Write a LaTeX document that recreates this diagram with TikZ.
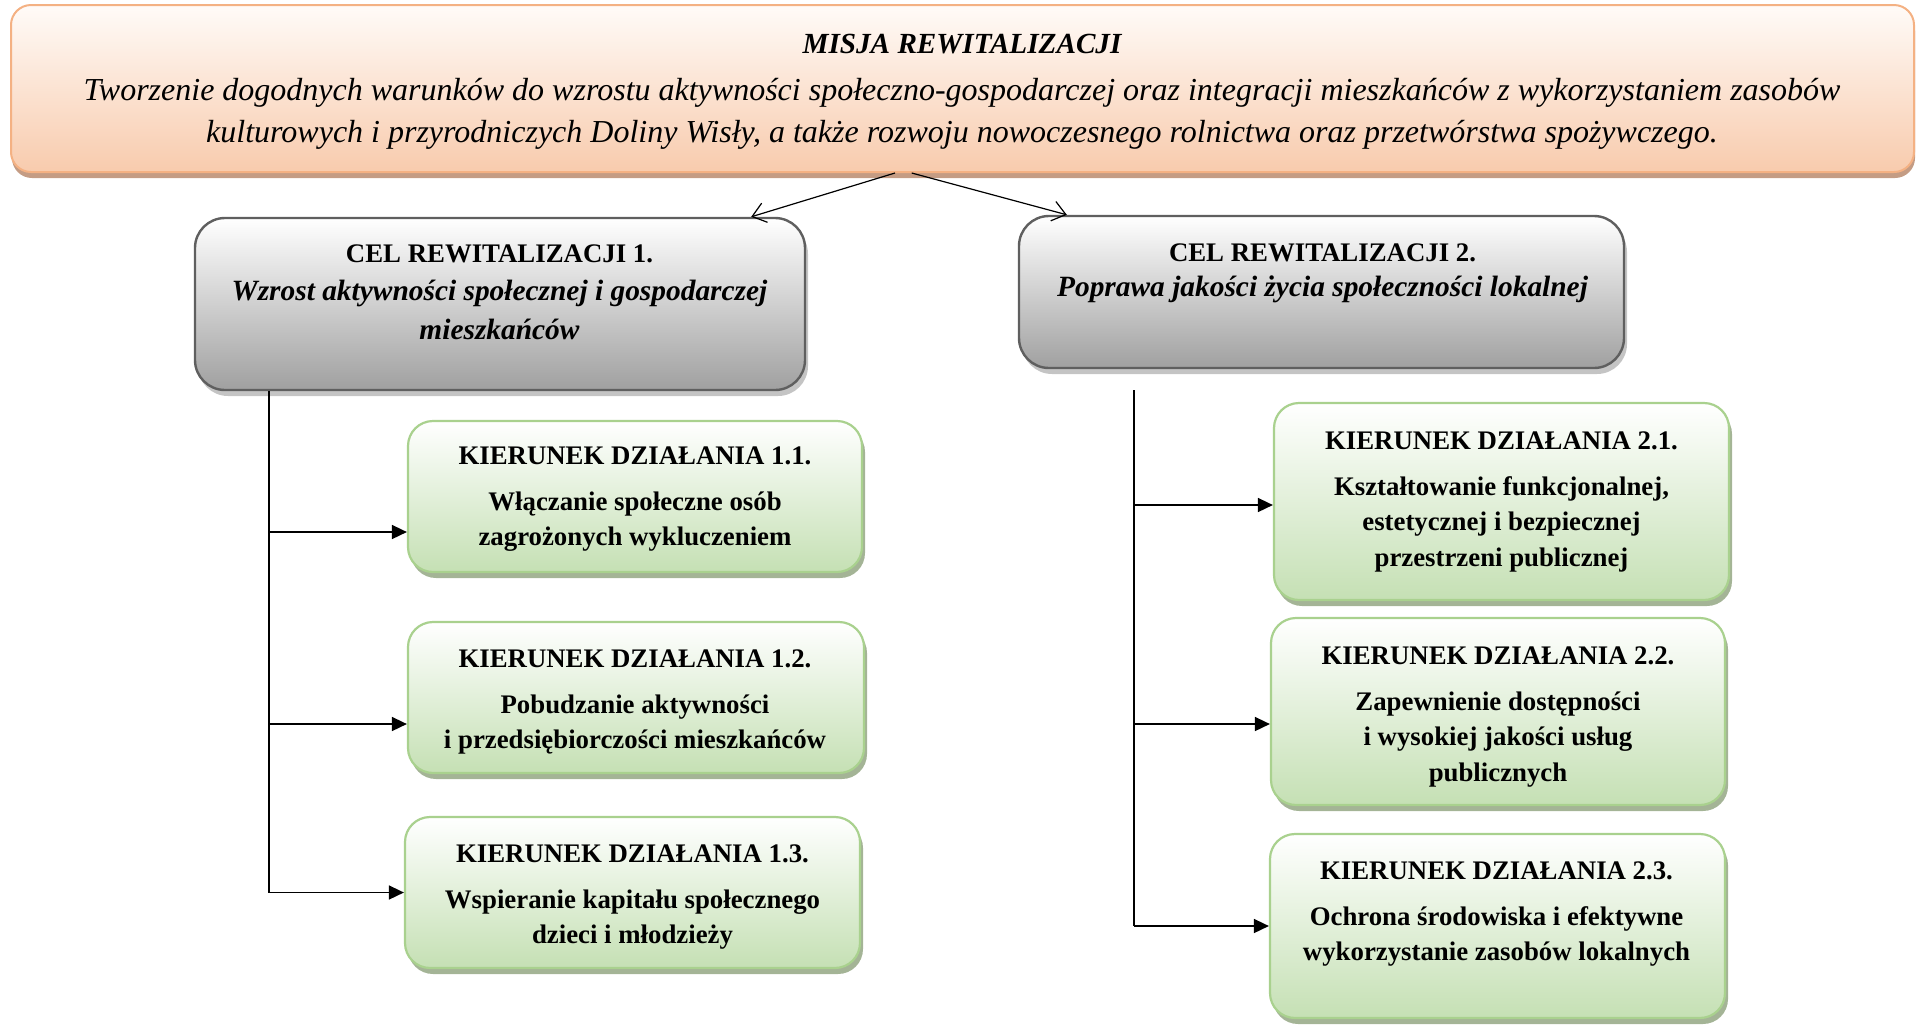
\documentclass[tikz,border=0pt]{standalone}
\usepackage{fontspec}
\setmainfont{Liberation Serif}
\usetikzlibrary{arrows.meta,shadows}

\definecolor{misjagora}{HTML}{FFFBF8}
\definecolor{misjadol}{HTML}{F8CBAD}
\definecolor{misjaramka}{HTML}{F4B183}
\definecolor{misjacien}{HTML}{C49C84}
\definecolor{celdol}{HTML}{A0A0A0}
\definecolor{celramka}{HTML}{5F5F5F}
\definecolor{celcien}{HTML}{C4C4C4}
\definecolor{kierdol}{HTML}{C5E0B4}
\definecolor{kierramka}{HTML}{A9D18E}
\definecolor{kiercien}{HTML}{A4B496}

\begin{document}
\begin{tikzpicture}[x=0.5pt,y=-0.5pt]
\tikzset{misja/.style={draw=misjaramka, line width=1pt, rounded corners=10pt, top color=misjagora, bottom color=misjadol, drop shadow={shadow xshift=0.5pt, shadow yshift=-3pt, fill=misjacien, opacity=1}},
cel/.style={draw=celramka, line width=1.2pt, rounded corners=15pt, top color=white, bottom color=celdol, drop shadow={shadow xshift=1.5pt, shadow yshift=-3pt, fill=celcien, opacity=1}},
kier/.style={draw=kierramka, line width=1.1pt, rounded corners=12.5pt, top color=white, bottom color=kierdol, drop shadow={shadow xshift=1.5pt, shadow yshift=-3pt, fill=kiercien, opacity=1}},
napis/.style={anchor=north, inner sep=0pt, align=center},
kiernapis/.style={napis, font=\fontsize{13.4}{17.75}\selectfont\bfseries},
strz/.style={-{Triangle[length=7.5pt,width=7pt]}, line width=0.8pt},
strzm/.style={-{Straight Barb[length=6.5pt,width=10pt]}, line width=0.6pt}}
\useasboundingbox (0,0) rectangle (1916,1024);
% misja
\node[misja, minimum width=951.5pt, minimum height=83.5pt] (M) at (962.5,88.5) {};
\node[napis, font=\fontsize{14.6}{17}\selectfont\bfseries\itshape] (Mt) at (962,33.5) {MISJA REWITALIZACJI};
\node[napis, font=\fontsize{16}{21}\selectfont\itshape] (Mb) at (962,78) {Tworzenie dogodnych warunków do wzrostu aktywności społeczno-gospodarczej oraz integracji mieszkańców z wykorzystaniem zasobów\\ kulturowych i przyrodniczych Doliny Wisły, a także rozwoju nowoczesnego rolnictwa oraz przetwórstwa spożywczego.};
% cele
\node[cel, minimum width=305pt, minimum height=86pt] (C1) at (500,304) {};
\node[napis, font=\fontsize{13.4}{19.25}\selectfont\bfseries] (C1t) at (499.5,244) {CEL REWITALIZACJI 1.\\ \fontsize{14.7}{19.25}\selectfont\itshape Wzrost aktywności społecznej i gospodarczej\\ \fontsize{14.7}{19.25}\selectfont\itshape mieszkańców};
\node[cel, minimum width=302.5pt, minimum height=76pt] (C2) at (1321.5,292) {};
\node[napis, font=\fontsize{13.4}{17.5}\selectfont\bfseries] (C2t) at (1322.5,243) {CEL REWITALIZACJI 2.\\ \fontsize{14.7}{17.5}\selectfont\itshape Poprawa jakości życia społeczności lokalnej};
\draw[strzm] ([xshift=-33.75pt]M.south) -- ([xshift=-27.5pt]C1.north east);
\draw[strzm] ([xshift=-25.4pt]M.south) -- ([xshift=24.5pt]C2.north west);
% kierunki 1
\node[kier, minimum width=227pt, minimum height=75.5pt] (K11) at (635,496.5) {};
\node[kier, minimum width=228pt, minimum height=75.5pt] (K12) at (636,697.5) {};
\node[kier, minimum width=227.5pt, minimum height=75.5pt] (K13) at (632.5,892.5) {};
\node[kiernapis] (K11t) at (635,446) {KIERUNEK DZIAŁANIA 1.1.\\[5.4pt] Włączanie społeczne osób\\ zagrożonych wykluczeniem};
\node[kiernapis] (K12t) at (635,649) {KIERUNEK DZIAŁANIA 1.2.\\[5.4pt] Pobudzanie aktywności\\ i przedsiębiorczości mieszkańców};
\node[kiernapis] (K13t) at (632.5,844) {KIERUNEK DZIAŁANIA 1.3.\\[5.4pt] Wspieranie kapitału społecznego\\ dzieci i młodzieży};
% kierunki 2
\node[kier, minimum width=227.5pt, minimum height=98.5pt] (K21) at (1501.5,501.5) {};
\node[kier, minimum width=227pt, minimum height=93.5pt] (K22) at (1498,711.5) {};
\node[kier, minimum width=227.5pt, minimum height=92pt] (K23) at (1497.5,926) {};
\node[kiernapis] (K21t) at (1501.5,431) {KIERUNEK DZIAŁANIA 2.1.\\[5.4pt] Kształtowanie funkcjonalnej,\\ estetycznej i bezpiecznej\\ przestrzeni publicznej};
\node[kiernapis] (K22t) at (1498,646) {KIERUNEK DZIAŁANIA 2.2.\\[5.4pt] Zapewnienie dostępności\\ i wysokiej jakości usług\\ publicznych};
\node[kiernapis] (K23t) at (1496.5,861) {KIERUNEK DZIAŁANIA 2.3.\\[5.4pt] Ochrona środowiska i efektywne\\ wykorzystanie zasobów lokalnych};
% polaczenia
\coordinate (P1) at ([xshift=-115.5pt]C1.south);
\coordinate (P2) at (1134,390);
\coordinate (K11we) at ([yshift=-17.75pt]K11.west);
\coordinate (K12we) at ([yshift=-13.25pt]K12.west);
\coordinate (K21we) at ([yshift=-1.75pt]K21.west);
\coordinate (K22we) at ([yshift=-6.25pt]K22.west);
\draw[line width=0.6pt] (P1) -- (P1 |- K13.west);
\draw[strz] (P1 |- K11we) -- (K11we);
\draw[strz] (P1 |- K12we) -- (K12we);
\draw[strz] (P1 |- K13.west) -- (K13.west);
\draw[line width=1.1pt] (P2) -- (P2 |- K23.west);
\draw[strz] (P2 |- K21we) -- (K21we);
\draw[strz] (P2 |- K22we) -- (K22we);
\draw[strz] (P2 |- K23.west) -- (K23.west);
\end{tikzpicture}
\end{document}
